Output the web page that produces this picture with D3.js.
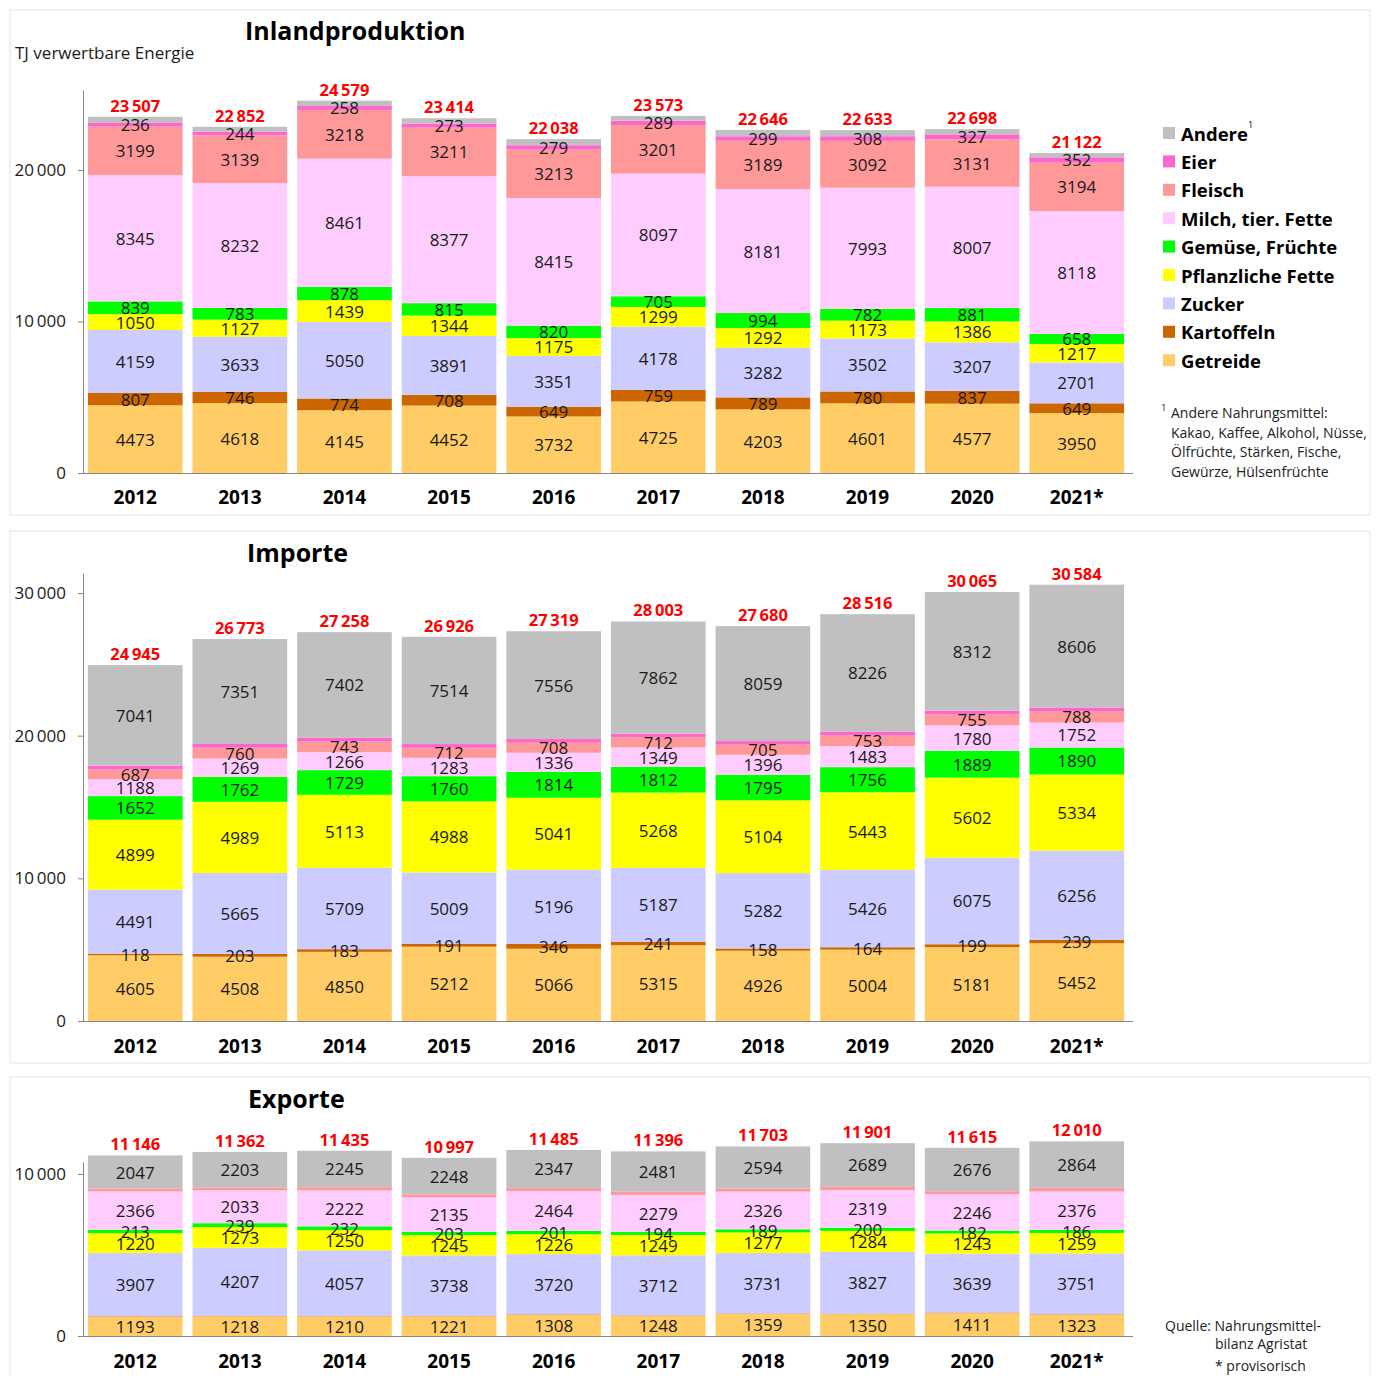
<!DOCTYPE html>
<html>
<head>
<meta charset="utf-8">
<script src="https://cdn.jsdelivr.net/npm/d3@7"></script>
<style>
  body { margin: 0; background: #fff; font-family: "Open Sans", sans-serif; }
  .axis path, .axis line { stroke: #868686; }
  .axis text { font-family: "Open Sans", sans-serif; font-size: 17px; fill: #1a1a1a; }
</style>
</head>
<body>
<script>
// data
const years = ["2012", "2013", "2014", "2015", "2016", "2017", "2018", "2019", "2020", "2021*"];
const categories = ["Getreide", "Kartoffeln", "Zucker", "Pflanzliche Fette", "Gemüse, Früchte",
  "Milch, tier. Fette", "Fleisch", "Eier", "Andere"];
const colors = ["#FFCC66", "#CC6600", "#CCCCFF", "#FFFF00", "#00FF00", "#FFCCFF", "#FF9999", "#FF66CC", "#C0C0C0"];

// one row per category, in the order of `categories`
const inlandValues = [
  [4473, 4618, 4145, 4452, 3732, 4725, 4203, 4601, 4577, 3950],
  [807, 746, 774, 708, 649, 759, 789, 780, 837, 649],
  [4159, 3633, 5050, 3891, 3351, 4178, 3282, 3502, 3207, 2701],
  [1050, 1127, 1439, 1344, 1175, 1299, 1292, 1173, 1386, 1217],
  [839, 783, 878, 815, 820, 705, 994, 782, 881, 658],
  [8345, 8232, 8461, 8377, 8415, 8097, 8181, 7993, 8007, 8118],
  [3199, 3139, 3218, 3211, 3213, 3201, 3189, 3092, 3131, 3194],
  [236, 244, 258, 273, 279, 289, 299, 308, 327, 352],
  [399, 330, 356, 343, 404, 320, 417, 402, 345, 283]
];
const importValues = [
  [4605, 4508, 4850, 5212, 5066, 5315, 4926, 5004, 5181, 5452],
  [118, 203, 183, 191, 346, 241, 158, 164, 199, 239],
  [4491, 5665, 5709, 5009, 5196, 5187, 5282, 5426, 6075, 6256],
  [4899, 4989, 5113, 4988, 5041, 5268, 5104, 5443, 5602, 5334],
  [1652, 1762, 1729, 1760, 1814, 1812, 1795, 1756, 1889, 1890],
  [1188, 1269, 1266, 1283, 1336, 1349, 1396, 1483, 1780, 1752],
  [687, 760, 743, 712, 708, 712, 705, 753, 755, 788],
  [264, 266, 263, 257, 256, 257, 255, 261, 272, 267],
  [7041, 7351, 7402, 7514, 7556, 7862, 8059, 8226, 8312, 8606]
];
const exportValues = [
  [1193, 1218, 1210, 1221, 1308, 1248, 1359, 1350, 1411, 1323],
  [30, 25, 20, 20, 30, 25, 30, 25, 35, 25],
  [3907, 4207, 4057, 3738, 3720, 3712, 3731, 3827, 3639, 3751],
  [1220, 1273, 1250, 1245, 1226, 1249, 1277, 1284, 1243, 1259],
  [213, 239, 232, 203, 201, 194, 189, 200, 182, 186],
  [2366, 2033, 2222, 2135, 2464, 2279, 2326, 2319, 2246, 2376],
  [155, 149, 184, 172, 174, 193, 182, 192, 168, 211],
  [15, 15, 15, 15, 15, 15, 15, 15, 15, 15],
  [2047, 2203, 2245, 2248, 2347, 2481, 2594, 2689, 2676, 2864]
];

// which categories get a number printed in the bar
const inlandLabeled = [true, true, true, true, true, true, true, true, false];
const importLabeled = [true, true, true, true, true, true, true, false, true];
const exportLabeled = [true, false, true, true, true, true, false, false, true];

const inlandTicks = [0, 10000, 20000];
const importTicks = [0, 10000, 20000, 30000];
const exportTicks = [0, 10000];

const legendOrder = [8, 7, 6, 5, 4, 3, 2, 1, 0];
const footnoteLines = ["Andere Nahrungsmittel:", "Kakao, Kaffee, Alkohol, Nüsse,", "Ölfrüchte, Stärken, Fische,", "Gewürze, Hülsenfrüchte"];

const W = 1378, H = 1376;
const svg = d3.select("body").append("svg").attr("width", W).attr("height", H);

const fmt = v => d3.format(",")(v).replace(/,/g, "\u2009");

const panels = [
  { title: "Inlandproduktion", tx: 245, ty: 40, box: [10, 10, 1360, 505], values: inlandValues,
    labeled: inlandLabeled, ticks: inlandTicks, y0: 473, yTick: 170, axisTop: 90, yearY: 504 },
  { title: "Importe", tx: 247, ty: 562, box: [10, 531, 1360, 532], values: importValues,
    labeled: importLabeled, ticks: importTicks, y0: 1021, yTick: 593, axisTop: 573, yearY: 1053 },
  { title: "Exporte", tx: 248, ty: 1108, box: [10, 1077, 1360, 320], values: exportValues,
    labeled: exportLabeled, ticks: exportTicks, y0: 1336, yTick: 1174, axisTop: 1162, yearY: 1368 }
];

const x = d3.scaleBand().domain(years).range([83, 1129]).paddingInner(0.095).paddingOuter(0.047);

panels.forEach(p => {
  const g = svg.append("g");

  g.append("rect")
    .attr("x", p.box[0]).attr("y", p.box[1])
    .attr("width", p.box[2]).attr("height", p.box[3])
    .attr("fill", "none").attr("stroke", "#e4e4e4");

  const topTick = d3.max(p.ticks);
  const y = d3.scaleLinear().domain([0, topTick]).range([p.y0, p.yTick]);
  y.domain([0, y.invert(p.axisTop)]).range([p.y0, p.axisTop]);

  // stack the rows
  const series = p.values.map((row, ci) => row.map((v, i) => {
    const base = d3.sum(p.values.slice(0, ci), r => r[i]);
    return { ci, i, v, y0: base, y1: base + v };
  }));

  series.forEach((s, ci) => {
    g.append("g").selectAll("rect").data(s).join("rect")
      .attr("x", d => x(years[d.i]))
      .attr("width", x.bandwidth())
      .attr("y", d => y(d.y1))
      .attr("height", d => y(d.y0) - y(d.y1))
      .attr("fill", colors[ci]);
  });

  series.forEach((s, ci) => {
    if (!p.labeled[ci]) return;
    g.append("g").selectAll("text").data(s).join("text")
      .attr("x", d => x(years[d.i]) + x.bandwidth() / 2)
      .attr("y", d => y((d.y0 + d.y1) / 2))
      .attr("text-anchor", "middle")
      .attr("dominant-baseline", "central")
      .attr("font-size", 17)
      .attr("fill", "#1a1a1a")
      .text(d => d.v);
  });

  // totals in red
  const totals = years.map((yr, i) => d3.sum(p.values, r => r[i]));
  g.append("g").selectAll("text").data(totals).join("text")
    .attr("x", (d, i) => x(years[i]) + x.bandwidth() / 2)
    .attr("y", d => y(d) - 5)
    .attr("text-anchor", "middle")
    .attr("font-size", 16.5)
    .attr("font-weight", "bold")
    .attr("fill", "#FF0000")
    .text(d => fmt(d));

  // axes
  g.append("g").attr("class", "axis")
    .attr("transform", "translate(83,0)")
    .call(d3.axisLeft(y).tickValues(p.ticks).tickSize(5).tickSizeOuter(0).tickPadding(12).tickFormat(fmt));

  g.append("line")
    .attr("x1", 83).attr("x2", 1133)
    .attr("y1", p.y0 + 0.5).attr("y2", p.y0 + 0.5)
    .attr("stroke", "#868686");

  g.append("g").selectAll("text").data(years).join("text")
    .attr("x", d => x(d) + x.bandwidth() / 2)
    .attr("y", p.yearY)
    .attr("text-anchor", "middle")
    .attr("font-size", 19)
    .attr("font-weight", "bold")
    .attr("fill", "#000")
    .text(d => d);

  g.append("text")
    .attr("x", p.tx).attr("y", p.ty)
    .attr("font-size", 25).attr("font-weight", "bold")
    .attr("fill", "#000")
    .text(p.title);
});

svg.append("text")
  .attr("x", 15).attr("y", 59)
  .attr("font-size", 17).attr("fill", "#1a1a1a")
  .text("TJ verwertbare Energie");

// legend
const legend = svg.append("g").attr("transform", "translate(1163,133)");
legendOrder.forEach((ci, k) => {
  const row = legend.append("g").attr("transform", `translate(0,${k * 28.4})`);
  row.append("rect").attr("x", 0).attr("y", -6).attr("width", 12).attr("height", 12).attr("fill", colors[ci]);
  const t = row.append("text")
    .attr("x", 18).attr("y", 0)
    .attr("dominant-baseline", "central")
    .attr("font-size", 18.5).attr("font-weight", "bold")
    .attr("fill", "#000")
    .text(categories[ci]);
  if (categories[ci] === "Andere") {
    t.append("tspan").attr("font-size", 9).attr("font-weight", "normal").attr("dy", -9).text("1");
  }
});

// footnote
const foot = svg.append("g");
foot.append("text").attr("x", 1161).attr("y", 411).attr("font-size", 9.5).attr("fill", "#222").text("1");
footnoteLines.forEach((l, k) => {
  foot.append("text")
    .attr("x", 1171).attr("y", 418 + k * 19.5)
    .attr("font-size", 14).attr("fill", "#222")
    .text(l);
});

// source
const src = svg.append("g").attr("font-size", 14).attr("fill", "#222");
src.append("text").attr("x", 1165).attr("y", 1331).text("Quelle: Nahrungsmittel-");
src.append("text").attr("x", 1215).attr("y", 1349).text("bilanz Agristat");
src.append("text").attr("x", 1215).attr("y", 1371).text("* provisorisch");
</script>
</body>
</html>
